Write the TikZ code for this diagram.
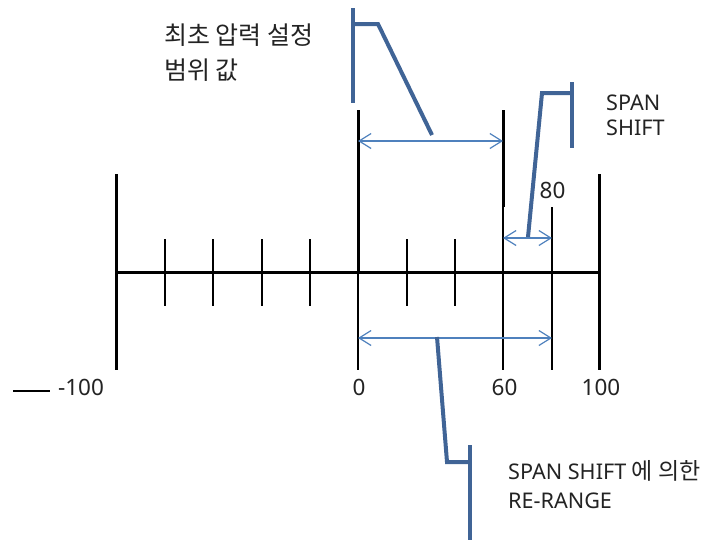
\documentclass[tikz,border=0pt]{standalone}
\usepackage{fontspec}
\setmainfont{Noto Sans}
\newfontfamily\kr{Noto Sans CJK KR}
\usetikzlibrary{arrows.meta}
\definecolor{calloutblue}{RGB}{64,100,150}
\definecolor{dimblue}{RGB}{79,129,189}
\definecolor{txtgray}{RGB}{35,35,35}
\begin{document}
\begin{tikzpicture}[x=1pt,y=-1pt,
  bigtick/.style={line width=3pt, black},
  smalltick/.style={line width=1.8pt, black},
  calloutline/.style={line width=4pt, draw=calloutblue, line join=miter},
  dimarrow/.style={line width=1.2pt, draw=dimblue,
     {Straight Barb[length=12pt,width=15pt,line width=1.2pt]}-{Straight Barb[length=12pt,width=15pt,line width=1.2pt]}},
  lbl/.style={text=txtgray, font=\fontsize{21.6}{24}\selectfont, inner sep=0pt, anchor=base west},
  krlbl/.style={text=txtgray, font=\kr\fontsize{25}{26}\selectfont, inner sep=0pt, anchor=base west},
  num/.style={text=txtgray, font=\fontsize{22.5}{24}\selectfont, inner sep=0pt, anchor=base}]
\useasboundingbox (0,0) rectangle (708,542);

% axis
\coordinate (axL) at (116,272);
\coordinate (axR) at (599,272);
\draw[bigtick] (axL) -- (axR);

% big end ticks
\coordinate (m100t) at (116,174); \coordinate (m100b) at (116,370);
\coordinate (p100t) at (599,174); \coordinate (p100b) at (599,370);
\draw[bigtick] (m100t) -- (m100b);
\draw[bigtick] (p100t) -- (p100b);

% small ticks
\foreach \x [count=\i] in {165,213,262,310,407,455}{
  \coordinate (st\i) at (\x,239);
  \coordinate (sb\i) at (\x,306);
  \draw[smalltick] (st\i) -- (sb\i);
}

% zero tick
\coordinate (z0t) at (358,110); \coordinate (z0m) at (358,272); \coordinate (z0b) at (358,370);
\draw[bigtick] (z0t) -- (z0m);
\draw[smalltick] (z0m) -- (z0b);

% sixty tick
\coordinate (s60t) at (503,110); \coordinate (s60m) at (503,207); \coordinate (s60b) at (503,370);
\draw[bigtick] (s60t) -- (s60m);
\draw[smalltick] (s60m) -- (s60b);

% eighty tick
\coordinate (e80t) at (552,207); \coordinate (e80b) at (552,370);
\draw[smalltick] (e80t) -- (e80b);

% short line at left
\coordinate (ll1) at (13,391); \coordinate (ll2) at (50,391);
\draw[line width=1.5pt, black] (ll1) -- (ll2);

% dimension arrows
\coordinate (a1l) at (358,141); \coordinate (a1r) at (503,141);
\draw[dimarrow] (a1l) -- (a1r);
\coordinate (a2l) at (503,238); \coordinate (a2r) at (552,238);
\draw[dimarrow] (a2l) -- (a2r);
\coordinate (a3l) at (358,338); \coordinate (a3r) at (552,338);
\draw[dimarrow] (a3l) -- (a3r);

% callout 1
\coordinate (c1a) at (353,8); \coordinate (c1b) at (353,103);
\coordinate (c1c) at (353,24); \coordinate (c1d) at (378,24); \coordinate (c1e) at (432,135);
\draw[calloutline] (c1a) -- (c1b);
\draw[calloutline] (c1c) -- (c1d) -- (c1e);

% callout 2
\coordinate (c2a) at (572,82); \coordinate (c2b) at (572,148);
\coordinate (c2c) at (572,93); \coordinate (c2d) at (542,93); \coordinate (c2e) at (528,237);
\draw[calloutline] (c2a) -- (c2b);
\draw[calloutline] (c2c) -- (c2d) -- (c2e);

% callout 3
\coordinate (c3a) at (437,337); \coordinate (c3b) at (447,462); \coordinate (c3c) at (470,462);
\coordinate (c3d) at (470,445); \coordinate (c3e) at (470,540);
\draw[calloutline] (c3a) -- (c3b) -- (c3c);
\draw[calloutline] (c3d) -- (c3e);

% labels
\node[krlbl] (k1) at (164,44) {최초 압력 설정};
\node[krlbl] (k2) at (164,79) {범위 값};
\node[lbl] (sp1) at (606,110) {SPAN};
\node[lbl] (sp2) at (606,135) {SHIFT};
\node[lbl] (rr1) at (508,479) {SPAN SHIFT {\kr\fontsize{23}{24}\selectfont 에 의한}};
\node[lbl] (rr2) at (508,508) {RE-RANGE};

\node[num] (nm100) at (81,395) {-100};
\node[num] (n0) at (359,395) {0};
\node[num] (n60) at (504.5,395) {60};
\node[num] (n100) at (601,395) {100};
\node[num] (n80) at (552.5,198) {80};
\end{tikzpicture}
\end{document}
